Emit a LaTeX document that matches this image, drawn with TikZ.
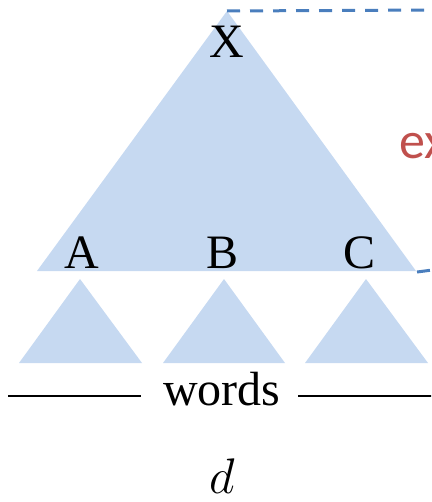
\RequirePackage{fix-cm}
\documentclass[tikz,border=0pt]{standalone}
\usepackage{fontspec}
\setmainfont{Liberation Serif}
\newfontfamily\exfont{Carlito}
\definecolor{trifill}{RGB}{198,217,241}
\definecolor{dashblue}{RGB}{74,126,189}
\definecolor{exred}{RGB}{192,80,77}
\tikzset{
  tri/.style={fill=trifill, draw=none},
  lbl/.style={anchor=base, inner sep=0pt, font=\fontsize{48}{56}\selectfont},
  blued/.style={draw=dashblue, line width=3pt, dash pattern=on 13pt off 10pt},
  rule/.style={draw=black, line width=2.4pt}
}
\begin{document}
\begin{tikzpicture}[x=1pt,y=-1pt]
\useasboundingbox (0,0) rectangle (431,502);
\clip (0,0) rectangle (431,502);
% big triangle
\coordinate (apex) at (227,11);
\coordinate (bl) at (37,271);
\coordinate (br) at (416,271);
\fill[tri] (apex) -- (bl) -- (br) -- cycle;
% small triangles
\fill[tri] (80,279) -- (19,363) -- (142,363) -- cycle;
\fill[tri] (224,279) -- (163,363) -- (285,363) -- cycle;
\fill[tri] (366,279) -- (305,363) -- (428,363) -- cycle;
% dashed connectors
\coordinate (topend) at (440,10);
\coordinate (botend) at (440,269);
\draw[blued] (apex) -- (topend);
\draw[blued] (417,272) coordinate (brs) -- (botend);
% labels
\node[lbl] (X) at (227,58) {X};
\node[lbl] (A) at (82,268) {A};
\node[lbl] (B) at (223,268) {B};
\node[lbl] (C) at (360,268) {C};
\node[lbl] (words) at (222,405) {words};
\coordinate (l1) at (8,396);
\coordinate (r2) at (440,396);
\draw[rule] (l1) -- (141,396);
\draw[rule] (298,396) -- (r2);
\node[anchor=base, inner sep=0pt, font=\fontsize{50}{60}\selectfont] (d) at (222,493) {$d$};
\node[anchor=base west, inner sep=0pt, text=exred, font=\exfont\fontsize{52}{60}\selectfont] (ex) at (399,159) {ex};
\end{tikzpicture}
\end{document}
